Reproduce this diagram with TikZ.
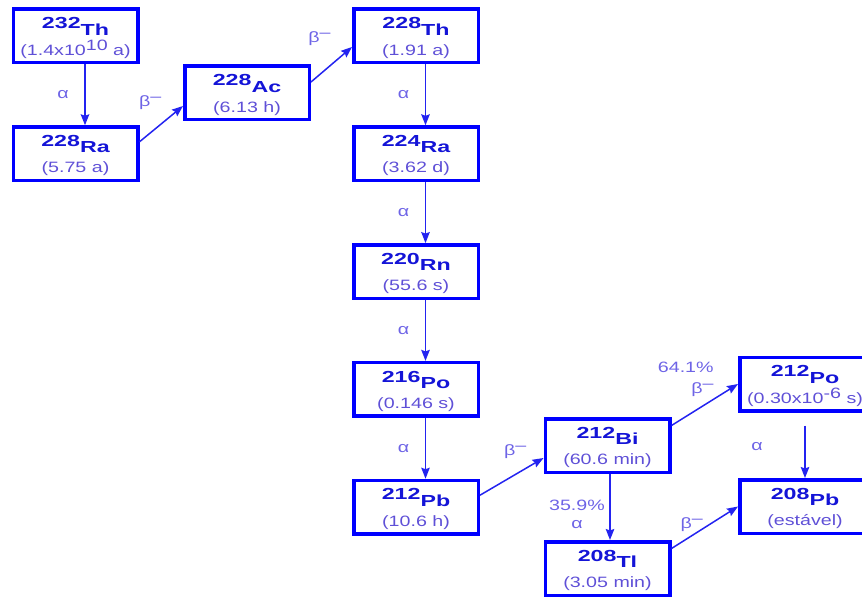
\documentclass[tikz,border=0pt]{standalone}
\usepackage{fontspec}
\usetikzlibrary{arrows.meta,positioning}

\newfontfamily\nucfont[FakeStretch=1.45]{Liberation Sans}
\newfontfamily\hlfont[FakeStretch=1.31]{Liberation Sans}

\definecolor{boxblue}{RGB}{0,0,255}
\definecolor{nucblue}{RGB}{20,20,215}
\definecolor{hlblue}{RGB}{95,80,215}
\definecolor{arrowblue}{RGB}{35,35,240}
\definecolor{lblblue}{RGB}{110,100,230}

\newcommand{\nuc}[2]{{\nucfont\bfseries\fontsize{16}{20}\selectfont\rule{0pt}{21.5pt}\raisebox{6.5pt}{#1}#2}}
\newcommand{\halflife}[1]{{\color{hlblue}#1}}
\newcommand{\sxp}[1]{\raisebox{5pt}{#1}}
\newcommand{\bminus}{β\raisebox{5.5pt}{–}}

\begin{document}
\begin{tikzpicture}[x=1pt,y=1pt,->,>={Stealth[length=11pt,width=8.5pt,inset=1.5pt]},node distance=117.8pt]
	\tikzstyle{nuclide}=[draw=boxblue,line width=3.5pt,minimum width=124.5pt,minimum height=53.5pt,inner sep=0pt,align=center,text=nucblue,font=\hlfont\fontsize{15}{20}\selectfont]
	\tikzstyle{lbl}=[text=lblblue,font=\hlfont\fontsize{15}{18}\selectfont,inner sep=0pt]
	\tikzstyle{every edge}=[draw=arrowblue,line width=1.5pt]

	\useasboundingbox (0,0) rectangle (862,-599);
	\clip (0,0) rectangle (862,-599);

	\node[nuclide] (Th232) at (75.5,-36) {\nuc{232}{Th}\\\halflife{(1.4x10\sxp{10} a)}};
	\node[nuclide] (Ra228) [below of=Th232] {\nuc{228}{Ra}\\\halflife{(5.75 a)}};
	\node[nuclide] (Ac228) at (247,-93) {\nuc{228}{Ac}\\\halflife{(6.13 h)}};
	\node[nuclide] (Th228) at (416,-36) {\nuc{228}{Th}\\\halflife{(1.91 a)}};
	\node[nuclide] (Ra224) [below of=Th228] {\nuc{224}{Ra}\\\halflife{(3.62 d)}};
	\node[nuclide] (Rn220) [below of=Ra224] {\nuc{220}{Rn}\\\halflife{(55.6 s)}};
	\node[nuclide] (Po216) [below of=Rn220] {\nuc{216}{Po}\\\halflife{(0.146 s)}};
	\node[nuclide] (Pb212) [below of=Po216] {\nuc{212}{Pb}\\\halflife{(10.6 h)}};
	\node[nuclide] (Bi212) at (607.5,-445.5) {\nuc{212}{Bi}\\\halflife{(60.6 min)}};
	\node[nuclide] (Tl208) at (607.5,-568.5) {\nuc{208}{Tl}\\\halflife{(3.05 min)}};
	\node[nuclide,minimum width=130.5pt] (Po212) at (805,-384) {\nuc{212}{Po}\\\halflife{(0.30x10\sxp{-6} s)}};
	\node[nuclide,minimum width=130.5pt] (Pb208) at (805,-506.5) {\nuc{208}{Pb}\\\halflife{(estável)}};

	% alpha chain
	\foreach \a/\b in {Th232/Ra228,Th228/Ra224,Ra224/Rn220,Rn220/Po216,Po216/Pb212}
		\path ([xshift=9.5pt]\a.south) edge node[lbl,xshift=-22pt] {α} ([xshift=9.5pt]\b.north);

	\path ([xshift=2.5pt]Bi212.south) edge node[lbl,align=center,xshift=-33pt,yshift=-7pt] {35.9\%\\α} ([xshift=2.5pt]Tl208.north);
	\path ([yshift=-13pt]Po212.south) edge node[lbl,xshift=-48pt,yshift=5pt] {α} (Pb208.north);

	% beta branches
	\path ([yshift=12pt]Ra228.east) edge node[lbl,xshift=-11pt,yshift=21pt] {\bminus} ([yshift=-13pt]Ac228.west);
	\path ([yshift=11pt]Ac228.east) edge node[lbl,xshift=-12pt,yshift=25.5pt] {\bminus} ([yshift=-11pt]Th228.west);
	\path ([yshift=12pt]Pb212.east) edge node[lbl,xshift=3.5pt,yshift=24.5pt] {\bminus} ([yshift=-12.5pt]Bi212.west);
	\path ([yshift=20pt]Bi212.east) edge node[lbl,align=right,xshift=-19pt,yshift=25pt] {64.1\%\\[3pt]\bminus} (Po212.west);
	\path ([yshift=20pt]Tl208.east) edge node[lbl,xshift=-13pt,yshift=2.5pt] {\bminus} (Pb208.west);
\end{tikzpicture}
\end{document}
